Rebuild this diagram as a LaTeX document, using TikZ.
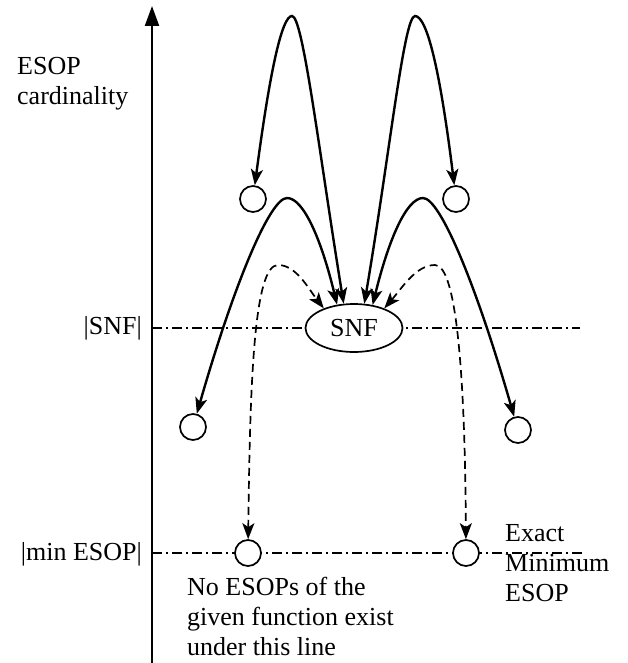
\documentclass[tikz,border=0pt]{standalone}
\usepackage{fontspec}
\setmainfont{Liberation Serif}
\usetikzlibrary{arrows.meta,shapes.geometric}
\begin{document}
\begin{tikzpicture}[x=1pt,y=-1pt,
  every node/.style={font=\fontsize{26}{30}\selectfont, inner sep=0pt},
  state/.style={circle,draw,fill=white,minimum size=26pt,line width=1.7pt},
  snfnode/.style={ellipse,draw,fill=white,minimum width=97pt,minimum height=48pt,line width=1.7pt},
  level/.style={line width=1.5pt,dash pattern=on 10pt off 4pt on 2pt off 4pt},
  tip/.tip={Stealth[length=16pt,width=12pt,inset=4pt]},
  move/.style={line width=2.4pt,tip-tip},
  jump/.style={line width=1.7pt,dash pattern=on 8pt off 5pt,tip-tip},
  axisline/.style={line width=2.2pt,-{Triangle[length=20pt,width=14pt]}},
  lbl/.style={align=left}
]
\useasboundingbox (0,0) rectangle (628,663);

% cardinality levels
\coordinate (snfL) at (152,328);
\coordinate (snfR) at (580,328);
\coordinate (minL) at (152,553);
\coordinate (minR) at (585,553);
\draw[level] (snfL) -- (snfR);
\draw[level] (minL) -- (minR);

% vertical axis
\coordinate (axbot) at (152,663);
\coordinate (axtop) at (152,6);
\draw[axisline] (axbot) -- (axtop);

% labels
\node[lbl,anchor=north west] (card) at (17,57) {ESOP\\cardinality};
\node[anchor=base east] (snflbl) at (142,334) {|SNF|};
\node[anchor=base east] (minlbl) at (142,560) {|min ESOP|};
\node[lbl,anchor=north west] (below) at (187,577) {No ESOPs of the\\given function exist\\under this line};
\node[lbl,anchor=north west] (exact) at (505,524) {Exact\\Minimum\\ESOP};

% states
\node[snfnode] (snf) at (354,328) {SNF};
\node[state] (tl) at (253,199) {};
\node[state] (tr) at (456,199) {};
\node[state] (bl) at (193,427) {};
\node[state] (br) at (518,430) {};
\node[state] (ml) at (248,553) {};
\node[state] (mr) at (466,553) {};

% moves through higher cardinality
\draw[move] (tl) .. controls (270,70) and (282,16) .. (292,16)
                 .. controls (303,16) and (319,152) .. (snf.113);
\draw[move] (snf.67) .. controls (390,152) and (404,16) .. (415,16)
                 .. controls (427,16) and (440,70) .. (tr);
\draw[move] (bl) .. controls (234,284) and (270,198) .. (287,198)
                 .. controls (304,198) and (322,242) .. (snf.126);
\draw[move] (snf.51) .. controls (388,242) and (406,198) .. (423,198)
                 .. controls (440,198) and (476,284) .. (br);

% moves down to the minimum
\draw[jump] (ml) .. controls (250,380) and (254,265) .. (278,265)
                 .. controls (296,265) and (308,288) .. (snf.147);
\draw[jump] (snf.33) .. controls (402,288) and (416,265) .. (435,265)
                 .. controls (457,265) and (465,380) .. (mr);
\end{tikzpicture}
\end{document}
